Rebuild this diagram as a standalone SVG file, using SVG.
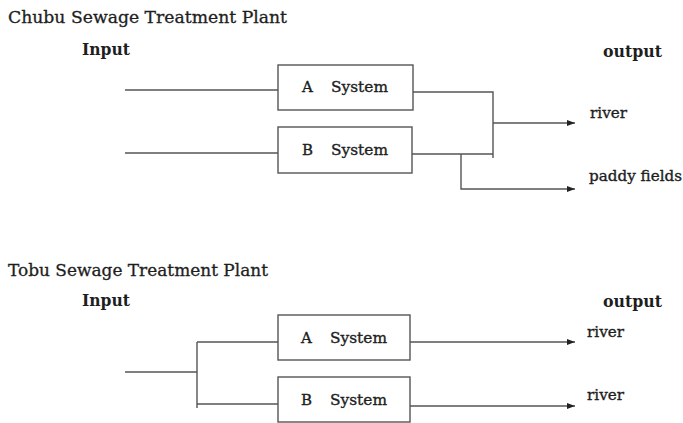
<svg xmlns="http://www.w3.org/2000/svg" width="683" height="423" viewBox="0 0 683 423">
<defs>
<style>
.t{font-family:"DejaVu Serif","Liberation Serif",serif;fill:#1e1e1e;}
.title{font-size:16.5px;stroke:#1e1e1e;stroke-width:0.3;}
.hd{font-size:16px;font-weight:bold;}
.lbl{font-size:15px;stroke:#1e1e1e;stroke-width:0.35;}
.box{fill:#fff;stroke:#555;stroke-width:1.4;}
.ln{fill:none;stroke:#555;stroke-width:1.4;}
</style>
<marker id="ah" viewBox="0 0 8 6" refX="8" refY="3" markerWidth="8" markerHeight="6" markerUnits="userSpaceOnUse" orient="auto">
<path d="M0,0 L8,3 L0,6 Z" fill="#222"/>
</marker>
</defs>
<rect width="683" height="423" fill="#fff"/>

<g id="chubu">
<text class="t title" x="8" y="23" textLength="279" lengthAdjust="spacingAndGlyphs">Chubu Sewage Treatment Plant</text>
<text class="t hd" x="82" y="55" textLength="48" lengthAdjust="spacingAndGlyphs">Input</text>
<text class="t hd" x="603" y="57" textLength="59" lengthAdjust="spacingAndGlyphs">output</text>
<text class="t lbl" x="590" y="118" textLength="37" lengthAdjust="spacingAndGlyphs">river</text>
<text class="t lbl" x="589" y="181" textLength="93" lengthAdjust="spacingAndGlyphs">paddy fields</text>
</g>

<g id="chubu-A">
<rect class="box" x="278" y="65" width="135" height="45"/>
<text class="t lbl" x="302" y="92">A</text>
<text class="t lbl" x="331" y="92" textLength="57" lengthAdjust="spacingAndGlyphs">System</text>
</g>
<g id="chubu-B">
<rect class="box" x="278" y="127" width="134" height="46"/>
<text class="t lbl" x="302" y="154.5">B</text>
<text class="t lbl" x="331" y="154.5" textLength="57" lengthAdjust="spacingAndGlyphs">System</text>
</g>

<g id="tobu">
<text class="t title" x="8" y="276" textLength="260" lengthAdjust="spacingAndGlyphs">Tobu Sewage Treatment Plant</text>
<text class="t hd" x="82" y="306" textLength="48" lengthAdjust="spacingAndGlyphs">Input</text>
<text class="t hd" x="603" y="307" textLength="59" lengthAdjust="spacingAndGlyphs">output</text>
<text class="t lbl" x="587" y="337" textLength="37" lengthAdjust="spacingAndGlyphs">river</text>
<text class="t lbl" x="587" y="400" textLength="37" lengthAdjust="spacingAndGlyphs">river</text>
</g>

<g id="tobu-A">
<rect class="box" x="278" y="315" width="132" height="45"/>
<text class="t lbl" x="301" y="342.5">A</text>
<text class="t lbl" x="330" y="342.5" textLength="57" lengthAdjust="spacingAndGlyphs">System</text>
</g>
<g id="tobu-B">
<rect class="box" x="278" y="377" width="132" height="45"/>
<text class="t lbl" x="301" y="404.5">B</text>
<text class="t lbl" x="330" y="404.5" textLength="57" lengthAdjust="spacingAndGlyphs">System</text>
</g>

<g id="connectors">
<line class="ln" x1="125" y1="90" x2="278" y2="90"/>
<line class="ln" x1="125" y1="153" x2="278" y2="153"/>
<polyline class="ln" points="413,92 493,92 493,158"/>
<line class="ln" x1="412" y1="154" x2="493" y2="154"/>
<line class="ln" x1="493" y1="123" x2="575" y2="123" marker-end="url(#ah)"/>
<polyline class="ln" points="461,154 461,189 575,189" marker-end="url(#ah)"/>

<line class="ln" x1="125" y1="372" x2="197" y2="372"/>
<line class="ln" x1="197" y1="342" x2="197" y2="408"/>
<line class="ln" x1="197" y1="342" x2="278" y2="342"/>
<line class="ln" x1="197" y1="404" x2="278" y2="404"/>
<line class="ln" x1="410" y1="342" x2="575" y2="342" marker-end="url(#ah)"/>
<line class="ln" x1="410" y1="406" x2="575" y2="406" marker-end="url(#ah)"/>
</g>
</svg>
